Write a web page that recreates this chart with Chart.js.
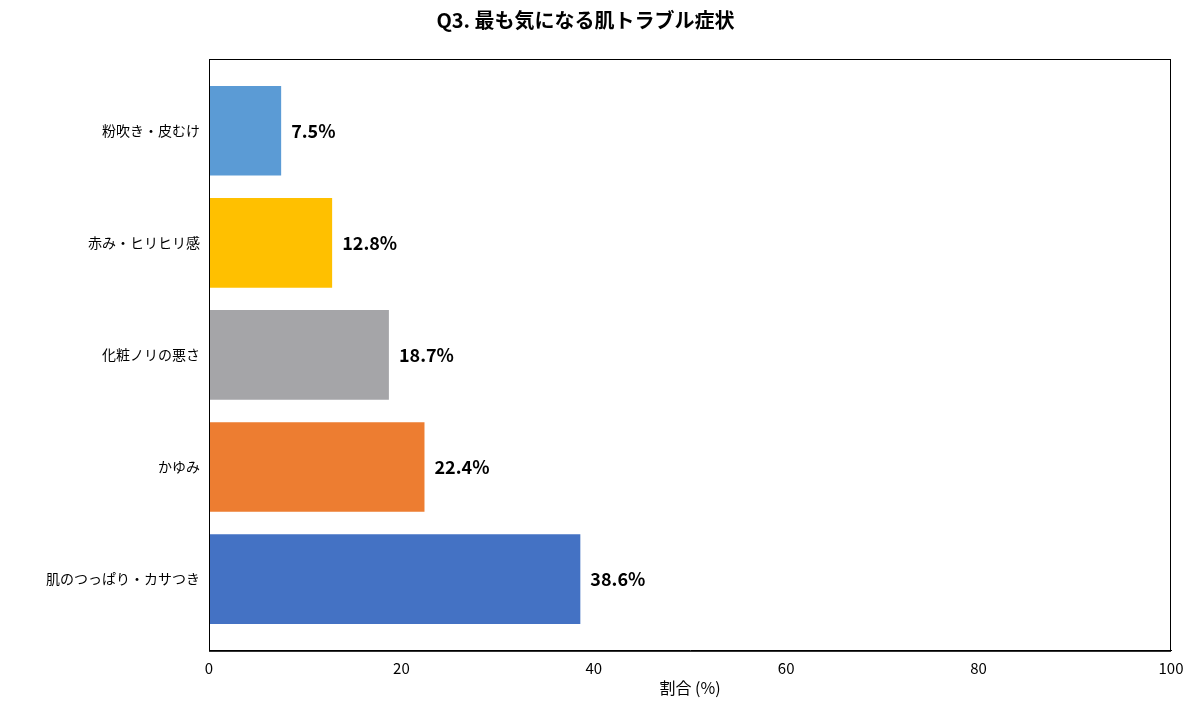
<!DOCTYPE html>
<html><head><meta charset="utf-8">
<script src="https://cdn.jsdelivr.net/npm/chart.js@4"></script>
<style>html,body{margin:0;background:#fff}#w{width:1200px;height:712px}</style>
</head><body><div id="w"><canvas id="c"></canvas></div>
<script>
const categories = ["粉吹き・皮むけ","赤み・ヒリヒリ感","化粧ノリの悪さ","かゆみ","肌のつっぱり・カサつき"];
const values = [7.5, 12.8, 18.7, 22.4, 38.6];
const colors = ["#5B9BD5","#FFC000","#A5A5A8","#ED7D31","#4472C4"];
const xTicks = [0,20,40,60,80,100];
const F = "'Noto Sans CJK JP','Noto Sans',sans-serif";
const frame = {id:'frame', afterDraw(ch){const a=ch.chartArea,c=ch.ctx;c.save();c.strokeStyle='#000';c.lineWidth=1;c.strokeRect(a.left+0.5,a.top+0.5,a.right-a.left-1,a.bottom-a.top);
 const m=ch.getDatasetMeta(0);c.font="bold 18px "+F;c.fillStyle='#000';c.textBaseline='middle';
 m.data.forEach((b,i)=>c.fillText(values[i].toFixed(1)+'%',b.x+10,b.y));c.restore();}};
new Chart(document.getElementById('c'),{type:'bar',
data:{datasets:[{data:values.map((v,i)=>({x:v,y:i})),backgroundColor:colors,barPercentage:0.8,categoryPercentage:1}]},
options:{indexAxis:'y',responsive:true,maintainAspectRatio:false,animation:false,
layout:{padding:{top:0,right:29,bottom:10,left:0}},
plugins:{legend:{display:false},tooltip:{enabled:false},
 title:{display:true,text:'Q3. 最も気になる肌トラブル症状',font:{family:F,size:20,weight:'bold'},color:'#000',padding:{top:8,bottom:27}}},
scales:{
 x:{min:0,max:100,ticks:{stepSize:20,color:'#000',font:{family:F,size:15},padding:2,callback:(v)=>xTicks.includes(v)?v:''},
  grid:{display:false,drawTicks:true,tickLength:6,tickColor:'#000'},border:{color:'#000'},
  title:{display:true,text:'割合 (%)',color:'#000',font:{family:F,size:16},padding:{top:0}}},
 y:{type:'linear',reverse:true,min:-0.64,max:4.64,offset:false,
  afterBuildTicks(s){s.ticks=categories.map((_,i)=>({value:i}));},
  ticks:{color:'#000',font:{family:F,size:14},callback:(v)=>categories[v]},
  grid:{display:false,tickLength:6,tickColor:'#000'},border:{color:'#000'},
  afterFit(s){s.width=209;}}
}},plugins:[frame]});
</script></body></html>
